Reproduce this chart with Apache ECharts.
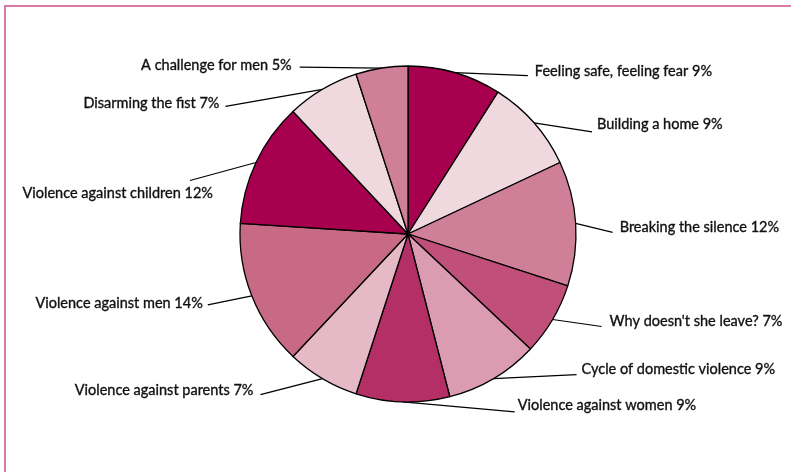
<!DOCTYPE html>
<html>
<head>
<meta charset="utf-8">
<script src="https://cdn.jsdelivr.net/npm/echarts@6/dist/echarts.min.js"></script>
<style>
html,body{margin:0;padding:0;background:#fff;}
#wrap{position:relative;width:791px;height:472px;overflow:hidden;}
#frame{position:absolute;left:4px;top:5px;right:-10px;bottom:-10px;border-left:2px solid #d97aa8;border-top:2px solid #d97aa8;box-sizing:border-box;}
#chart{position:absolute;left:0;top:0;width:791px;height:472px;}
</style>
</head>
<body>
<div id="wrap"><div id="frame"></div><div id="chart"></div></div>
<script>
const categories = [
  "Feeling safe, feeling fear",
  "Building a home",
  "Breaking the silence",
  "Why doesn't she leave?",
  "Cycle of domestic violence",
  "Violence against women",
  "Violence against parents",
  "Violence against men",
  "Violence against children",
  "Disarming the fist",
  "A challenge for men"
];
const values = [9, 9, 12, 7, 9, 9, 7, 14, 12, 7, 5];
const colors = ["#a6004f","#f0d8df","#d07f99","#c0507a","#db9bb0","#b32f66","#e6b9c6","#c86a86","#a6004f","#f0d8df","#d07f99"];

// label layout tuning (offsets of line end from slice edge, and of text from line end)
const labelSide = [1, 1, 1, 1, 1, 1, -1, -1, -1, -1, -1];
const lineEndOffset = [[73,3],[58,9],[37,9],[49,7],[83,-4],[112,10],[-62,16],[-44,9],[-66,18],[-97,17],[-82,-1]];
const textOffset = [[7,-4],[5,-8],[7,-5],[8,-5],[5,-5],[3,-7],[-7,-4],[-5,-2],[23,13],[-6,-3],[-8,-2]];

const chart = echarts.init(document.getElementById('chart'));
const data = categories.map((c, i) => ({
  name: c,
  value: values[i],
  itemStyle: { color: colors[i] }
}));
chart.setOption({
  animation: false,
  series: [{
    type: 'pie',
    center: [408, 234],
    radius: 168,
    startAngle: 90,
    clockwise: true,
    avoidLabelOverlap: false,
    data: data,
    itemStyle: { borderColor: '#000', borderWidth: 1.3 },
    label: {
      show: true,
      position: 'outside',
      formatter: p => p.name + ' ' + p.value + '%',
      fontFamily: 'Lato, "Noto Sans", sans-serif',
      fontSize: 14.5,
      color: '#111',
      textBorderColor: '#111',
      textBorderWidth: 0.35
    },
    labelLine: { show: true, length: 4, length2: 20, smooth: false, lineStyle: { color: '#000', width: 1.2 } },
    labelLayout: function (params) {
      const i = params.dataIndex;
      const p0 = params.labelLinePoints[0];
      const end = [p0[0] + lineEndOffset[i][0], p0[1] + lineEndOffset[i][1]];
      return {
        x: end[0] + textOffset[i][0],
        y: end[1] + textOffset[i][1],
        align: labelSide[i] > 0 ? 'left' : 'right',
        verticalAlign: 'middle',
        labelLinePoints: [p0, end]
      };
    },
    emphasis: { disabled: true }
  }]
});
</script>
</body>
</html>
